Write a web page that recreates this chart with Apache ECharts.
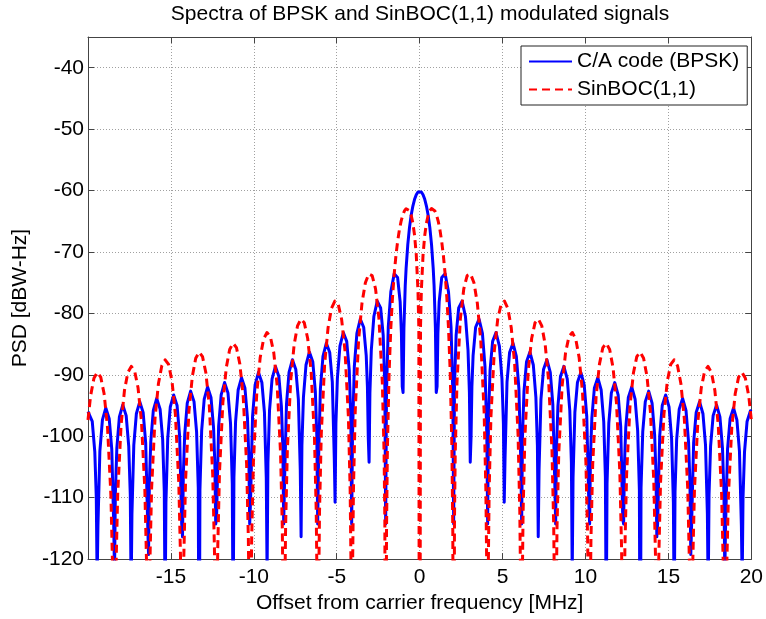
<!DOCTYPE html>
<html>
<head>
<meta charset="utf-8">
<script src="https://cdn.jsdelivr.net/npm/echarts@6/dist/echarts.min.js"></script>
<style>
html,body{margin:0;padding:0;background:#fff;}
#chart{width:766px;height:619px;}
</style>
</head>
<body>
<div id="chart"></div>
<script>
// Values (positive-frequency half; the spectrum is symmetric about 0 MHz)
const freqBpsk = [0, 0.102, 0.205, 0.307, 0.409, 0.512, 0.614, 0.716, 0.818, 0.870,
  0.95, 1.00, 1.05, 1.10, 1.176, 1.330, 1.535, 1.739, 1.893,
  2.00, 2.05, 2.10, 2.199, 2.353, 2.558, 2.762, 2.916,
  3.00, 3.05, 3.10, 3.15, 3.222, 3.376, 3.581, 3.785, 3.939,
  4.05, 4.10, 4.15, 4.245, 4.399, 4.604, 4.808, 4.962,
  5.05, 5.10, 5.15, 5.268, 5.422, 5.627, 5.831, 5.985,
  6.10, 6.15, 6.20, 6.291, 6.445, 6.650, 6.854, 7.008,
  7.10, 7.15, 7.20, 7.314, 7.468, 7.673, 7.877, 8.031,
  8.15, 8.20, 8.25, 8.337, 8.491, 8.696, 8.900, 9.054,
  9.15, 9.20, 9.25, 9.360, 9.514, 9.719, 9.923, 10.077,
  10.20, 10.25, 10.30, 10.383, 10.537, 10.742, 10.946, 11.100,
  11.20, 11.25, 11.30, 11.406, 11.560, 11.765, 11.969, 12.123,
  12.25, 12.30, 12.35, 12.429, 12.583, 12.788, 12.992, 13.146,
  13.25, 13.30, 13.35, 13.452, 13.606, 13.811, 14.015, 14.169,
  14.25, 14.30, 14.35, 14.475, 14.629, 14.834, 15.038, 15.192,
  15.30, 15.35, 15.40, 15.498, 15.652, 15.857, 16.061, 16.215,
  16.30, 16.35, 16.40, 16.521, 16.675, 16.880, 17.084, 17.238,
  17.35, 17.40, 17.45, 17.544, 17.698, 17.903, 18.107, 18.261,
  18.35, 18.40, 18.45, 18.567, 18.721, 18.926, 19.130, 19.284,
  19.40, 19.45, 19.50, 19.590, 19.744, 19.949, 20.00];
const psdBpsk = [-60.10, -60.24, -60.68, -61.43, -62.52, -64.02, -66.04, -68.79, -72.72, -75.49,
  -82.46, -92.87, -91.91, -83.28, -78.12, -74.16, -73.56, -76.49, -82.25,
  -92.90, -114.3, -91.94, -83.55, -79.12, -78.00, -80.51, -86.00,
  -92.92, -104.22, -100.11, -91.97, -86.87, -82.25, -80.92, -83.25, -88.61,
  -99.81, -114.29, -97.22, -89.26, -84.55, -83.11, -85.32, -90.62,
  -97.96, -110.73, -103.47, -91.14, -86.37, -84.85, -87.00, -92.25,
  -104.23, -114.30, -100.15, -92.68, -87.87, -86.30, -88.40, -93.62,
  -101.46, -116.36, -105.44, -93.99, -89.15, -87.54, -89.61, -94.80,
  -107.74, -114.30, -102.03, -95.13, -90.26, -88.63, -90.67, -95.84,
  -104.31, -122.5, -106.72, -96.13, -91.25, -89.60, -91.62, -96.77,
  -110.76, -114.28, -103.46, -97.03, -92.14, -90.47, -92.47, -97.61,
  -106.68, -131.6, -107.71, -97.85, -92.94, -91.26, -93.25, -98.38,
  -113.59, -114.28, -104.57, -98.59, -93.68, -91.98, -93.96, -99.08,
  -108.80, -150, -108.46, -99.28, -94.36, -92.65, -94.62, -99.73,
  -106.15, -116.37, -114.29, -99.92, -94.99, -93.27, -95.23, -100.34,
  -110.77, -129.8, -109.02, -100.51, -95.58, -93.85, -95.80, -100.90,
  -107.80, -119.27, -114.30, -101.07, -96.13, -94.39, -96.34, -101.44,
  -112.65, -125.8, -109.53, -101.59, -96.64, -94.90, -96.84, -101.94,
  -109.34, -122.5, -114.30, -102.08, -97.13, -95.39, -97.32, -102.41,
  -114.51, -123.6, -109.94, -102.55, -97.59, -95.84, -95.98];

const freqBoc = [0, 0.05, 0.102, 0.205, 0.307, 0.409, 0.512, 0.614, 0.716, 0.818, 0.921,
  1.023, 1.125, 1.228, 1.330, 1.432, 1.535, 1.637, 1.739, 1.841, 1.944,
  2.00, 2.046, 2.10, 2.146,
  2.251, 2.455, 2.660, 2.864, 3.069, 3.274, 3.478, 3.683, 3.887,
  3.992, 4.042, 4.092, 4.142, 4.192,
  4.297, 4.501, 4.706, 4.910, 5.115, 5.320, 5.524, 5.729, 5.933,
  6.038, 6.088, 6.138, 6.188, 6.238,
  6.343, 6.547, 6.752, 6.956, 7.161, 7.366, 7.570, 7.775, 7.979,
  8.084, 8.134, 8.184, 8.234, 8.284,
  8.389, 8.593, 8.798, 9.002, 9.207, 9.412, 9.616, 9.821, 10.025,
  10.130, 10.180, 10.230, 10.280, 10.330,
  10.435, 10.639, 10.844, 11.048, 11.253, 11.458, 11.662, 11.867, 12.071,
  12.176, 12.226, 12.276, 12.326, 12.376,
  12.481, 12.685, 12.890, 13.094, 13.299, 13.504, 13.708, 13.913, 14.117,
  14.222, 14.272, 14.322, 14.372, 14.422,
  14.527, 14.731, 14.936, 15.140, 15.345, 15.550, 15.754, 15.959, 16.163,
  16.268, 16.318, 16.368, 16.418, 16.468,
  16.573, 16.777, 16.982, 17.186, 17.391, 17.596, 17.800, 18.005, 18.209,
  18.314, 18.364, 18.414, 18.464, 18.514,
  18.619, 18.823, 19.028, 19.232, 19.437, 19.642, 19.846, 20.00];
const psdBoc = [-200, -82.40, -76.25, -70.44, -67.29, -65.30, -64.02, -63.27, -62.93, -62.96, -63.32,
  -64.02, -65.07, -66.48, -68.31, -70.63, -73.56, -77.34, -82.35, -89.53, -101.83,
  -115.88, -170, -113.54, -102.66,
  -91.27, -80.86, -76.00, -73.84, -73.57, -75.00, -78.33, -84.38, -96.02,
  -108.68, -120.66, -170, -120.66, -108.68,
  -96.89, -86.12, -80.96, -78.52, -78.00, -79.21, -82.35, -88.22, -99.69,
  -112.21, -124.19, -170, -124.19, -112.21,
  -100.27, -89.38, -84.09, -81.54, -80.93, -82.04, -85.09, -90.87, -102.27,
  -114.71, -126.69, -170, -126.69, -114.71,
  -102.70, -91.74, -86.39, -83.78, -83.11, -84.17, -87.17, -92.90, -104.25,
  -116.64, -128.62, -170, -128.62, -116.64,
  -104.60, -93.59, -88.21, -85.56, -84.85, -85.88, -88.84, -94.54, -105.86,
  -118.23, -130.21, -170, -130.21, -118.23,
  -106.15, -95.04, -89.71, -87.04, -86.30, -87.31, -90.25, -95.93, -107.22,
  -119.57, -131.55, -170, -131.55, -119.57,
  -107.47, -96.42, -90.99, -88.30, -87.55, -88.53, -91.45, -97.12, -108.40,
  -120.73, -132.71, -170, -132.71, -120.73,
  -108.61, -97.55, -92.11, -89.40, -88.63, -89.61, -92.51, -98.16, -109.43,
  -121.75, -133.73, -170, -133.73, -121.75,
  -109.62, -98.55, -93.09, -90.38, -89.60, -90.56, -93.46, -97.35];

const xTickLabels = [-15, -10, -5, 0, 5, 10, 15, 20];
const yTickLabels = [-120, -110, -100, -90, -80, -70, -60, -50, -40];
const seriesNames = ['C/A code (BPSK)', 'SinBOC(1,1)'];
const titleText = 'Spectra of BPSK and SinBOC(1,1) modulated signals';
const xAxisTitle = 'Offset from carrier frequency [MHz]';
const yAxisTitle = 'PSD [dBW-Hz]';

// Build full (two-sided) [x, y] table from the symmetric half
function twoSided(freqs, vals) {
  const out = [];
  for (let i = freqs.length - 1; i >= 0; i--) {
    if (freqs[i] !== 0) out.push([-freqs[i], vals[i]]);
  }
  for (let i = 0; i < freqs.length; i++) out.push([freqs[i], vals[i]]);
  return out;
}

const FONT = 'Liberation Sans, Arial, Helvetica, sans-serif';
const FS = 21;
const boxColor = '#444';
const gridLine = { show: true, lineStyle: { color: '#a0a0a0', width: 1, type: [1, 2] } };

const chart = echarts.init(document.getElementById('chart'), null, { renderer: 'canvas' });
chart.setOption({
  animation: false,
  backgroundColor: '#ffffff',
  textStyle: { fontFamily: FONT, color: '#000' },
  title: {
    text: titleText,
    left: 420, top: 4, padding: 0,
    textAlign: 'center',
    textStyle: { fontFamily: FONT, fontSize: FS, fontWeight: 'normal', color: '#000' }
  },
  grid: { left: 88, top: 37, width: 666, height: 525, containLabel: false, show: false },
  legend: {
    orient: 'vertical',
    left: 521, top: 46,
    padding: [5, 8, 5, 7],
    itemWidth: 43, itemHeight: 21, itemGap: 7,
    borderColor: '#222', borderWidth: 1,
    backgroundColor: '#fff',
    itemStyle: { opacity: 0, borderWidth: 0 },
    textStyle: { fontFamily: FONT, fontSize: FS, color: '#000' },
    data: seriesNames
  },
  xAxis: [{
    type: 'value', position: 'bottom',
    min: -20, max: 20, interval: 5,
    axisLine: { show: true, onZero: false, lineStyle: { color: boxColor, width: 1 } },
    axisTick: { show: true, inside: true, length: 6, lineStyle: { color: boxColor } },
    axisLabel: {
      fontFamily: FONT, fontSize: FS, color: '#000', margin: 8,
      formatter: v => (xTickLabels.indexOf(v) >= 0 ? String(v) : '')
    },
    splitLine: gridLine,
    name: xAxisTitle, nameLocation: 'middle', nameGap: 32,
    nameTextStyle: { fontFamily: FONT, fontSize: FS, color: '#000' }
  }, {
    type: 'value', position: 'top',
    min: -20, max: 20, interval: 5,
    axisLine: { show: true, onZero: false, lineStyle: { color: boxColor, width: 1 } },
    axisTick: { show: true, inside: true, length: 6, lineStyle: { color: boxColor } },
    axisLabel: { show: false },
    splitLine: { show: false }
  }],
  yAxis: [{
    type: 'value', position: 'left',
    min: -120, max: -35, interval: 10,
    axisLine: { show: true, onZero: false, lineStyle: { color: boxColor, width: 1 } },
    axisTick: { show: true, inside: true, length: 6, lineStyle: { color: boxColor } },
    axisLabel: {
      fontFamily: FONT, fontSize: FS, color: '#000', margin: 4,
      formatter: v => (yTickLabels.indexOf(v) >= 0 ? String(v) : '')
    },
    splitLine: gridLine,
    name: yAxisTitle, nameLocation: 'middle', nameGap: 48,
    nameTextStyle: { fontFamily: FONT, fontSize: FS, color: '#000' }
  }, {
    type: 'value', position: 'right',
    min: -120, max: -35, interval: 10,
    axisLine: { show: true, onZero: false, lineStyle: { color: boxColor, width: 1 } },
    axisTick: { show: true, inside: true, length: 6, lineStyle: { color: boxColor } },
    axisLabel: { show: false },
    splitLine: { show: false }
  }],
  series: [{
    name: seriesNames[0],
    type: 'line',
    xAxisIndex: 0, yAxisIndex: 0,
    data: twoSided(freqBpsk, psdBpsk),
    symbol: 'none', showSymbol: false,
    clip: true,
    z: 2,
    itemStyle: { color: '#0000ff' },
    lineStyle: { color: '#0000ff', width: 3, join: 'round' }
  }, {
    name: seriesNames[1],
    type: 'line',
    xAxisIndex: 0, yAxisIndex: 0,
    data: twoSided(freqBoc, psdBoc),
    symbol: 'none', showSymbol: false,
    clip: true,
    z: 3,
    itemStyle: { color: '#ff0000' },
    lineStyle: { color: '#ff0000', width: 3, type: [8, 5], join: 'round' }
  }]
});
</script>
</body>
</html>
